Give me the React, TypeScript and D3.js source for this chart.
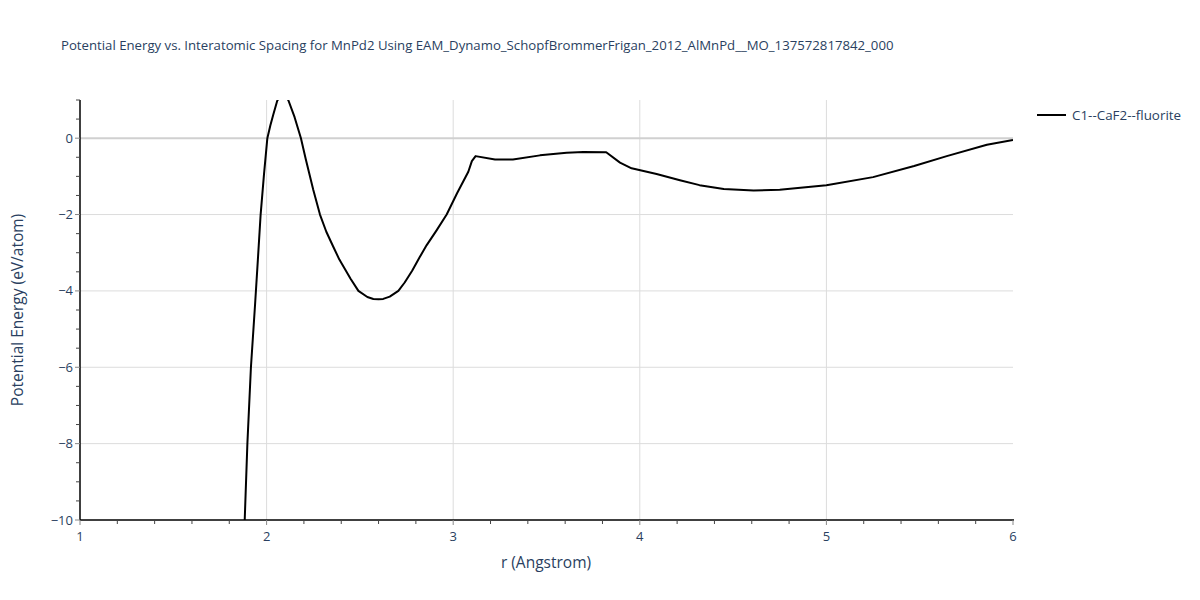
import React from "react";
import * as d3 from "d3";

const rValues = [1.882, 1.897, 1.916, 1.938, 1.953, 1.968, 1.986, 2.004, 2.02, 2.036, 2.057, 2.085, 2.116, 2.15, 2.184, 2.21, 2.25, 2.286, 2.32, 2.358, 2.39, 2.45, 2.492, 2.54, 2.572, 2.6, 2.625, 2.66, 2.706, 2.74, 2.78, 2.82, 2.858, 2.91, 2.965, 3.02, 3.081, 3.1, 3.12, 3.224, 3.32, 3.465, 3.608, 3.697, 3.82, 3.894, 3.956, 4.09, 4.215, 4.32, 4.45, 4.61, 4.75, 5.0, 5.25, 5.47, 5.645, 5.86, 6.0];
const energyValues = [-10.1, -8.0, -6.0, -4.37, -3.2, -2.0, -0.95, 0, 0.33, 0.62, 0.98, 1.18, 1.0, 0.55, 0, -0.55, -1.35, -2.0, -2.45, -2.85, -3.18, -3.68, -4.0, -4.16, -4.21, -4.22, -4.21, -4.15, -4.0, -3.78, -3.47, -3.12, -2.8, -2.42, -2.0, -1.45, -0.88, -0.6, -0.47, -0.56, -0.56, -0.45, -0.38, -0.36, -0.37, -0.64, -0.79, -0.94, -1.1, -1.23, -1.33, -1.37, -1.35, -1.23, -1.02, -0.73, -0.47, -0.17, -0.05];
const xTicks = [1, 2, 3, 4, 5, 6];
const yTicks = [-10, -8, -6, -4, -2, 0];
const seriesName = "C1--CaF2--fluorite";
const title = "Potential Energy vs. Interatomic Spacing for MnPd2 Using EAM_Dynamo_SchopfBrommerFrigan_2012_AlMnPd__MO_137572817842_000";

const W = 1200, H = 600;
const L = 80, R = 1013, T = 100, B = 520;
const font = "'Open Sans', sans-serif";
const txt = "#2a3f5f";

export default function App() {
  const x = d3.scaleLinear().domain([1, 6]).range([L, R]);
  const y = d3.scaleLinear().domain([-10, 1]).range([B, T]);
  const pts = rValues.map((r, i) => [r, energyValues[i]] as [number, number]);
  const line = d3.line<[number, number]>().x(d => x(d[0])).y(d => y(d[1]));
  const xMinor = d3.range(1, 6.001, 0.2).filter(v => Math.abs(v - Math.round(v)) > 1e-6);
  const yMinor = d3.range(-10, 1.001, 0.5).filter(v => Math.abs(v / 2 - Math.round(v / 2)) > 1e-6);
  return (
    <svg width={W} height={H} style={{ position: "absolute", left: 0, top: 0, fontFamily: font }}>
      <rect width={W} height={H} fill="#fff" />
      <defs>
        <clipPath id="plotclip">
          <rect x={L} y={T} width={R - L} height={B - T} />
        </clipPath>
      </defs>
      {xTicks.filter(v => v > 1 && v < 6).map(v => (
        <line key={"gx" + v} x1={x(v)} x2={x(v)} y1={T} y2={B} stroke="#dcdcdc" strokeWidth={1} />
      ))}
      {yTicks.filter(v => v !== 0 && v !== -10).map(v => (
        <line key={"gy" + v} x1={L} x2={R} y1={y(v)} y2={y(v)} stroke="#dcdcdc" strokeWidth={1} />
      ))}
      <line x1={L} x2={R} y1={y(0)} y2={y(0)} stroke="#d0d0d0" strokeWidth={2} />
      <path d={line(pts) || ""} fill="none" stroke="#000" strokeWidth={2} clipPath="url(#plotclip)" strokeLinejoin="round" />
      <line x1={L} x2={R + 1} y1={B} y2={B} stroke="#000" strokeWidth={1.5} />
      <line x1={L} x2={L} y1={T} y2={B} stroke="#000" strokeWidth={1.5} />
      {xTicks.map(v => (
        <g key={"xt" + v}>
          <line x1={x(v)} x2={x(v)} y1={B} y2={B + 5} stroke="#888" strokeWidth={1} />
          <text x={x(v)} y={B + 21} textAnchor="middle" fontSize={13} fill={txt}>{v}</text>
        </g>
      ))}
      {xMinor.map(v => (
        <line key={"xm" + v} x1={x(v)} x2={x(v)} y1={B} y2={B + 4} stroke="#444" strokeWidth={1} />
      ))}
      {yTicks.map(v => (
        <g key={"yt" + v}>
          <line x1={L} x2={L - 5} y1={y(v)} y2={y(v)} stroke="#888" strokeWidth={1} />
          <text x={L - 7} y={y(v) + 4.5} textAnchor="end" fontSize={13} fill={txt}>{v < 0 ? "\u2212" + Math.abs(v) : v}</text>
        </g>
      ))}
      {yMinor.map(v => (
        <line key={"ym" + v} x1={L} x2={L - 4} y1={y(v)} y2={y(v)} stroke="#444" strokeWidth={1} />
      ))}
      <text x={546} y={568} textAnchor="middle" fontSize={15.5} fill={txt}>r (Angstrom)</text>
      <text transform={`translate(23,${(T + B) / 2}) rotate(-90)`} textAnchor="middle" fontSize={15.5} fill={txt}>Potential Energy (eV/atom)</text>
      <text x={61} y={50} fontSize={13.2} fill={txt}>{title}</text>
      <line x1={1037} x2={1066} y1={115} y2={115} stroke="#000" strokeWidth={2} />
      <text x={1072} y={119.5} fontSize={13.4} fill={txt}>{seriesName}</text>
    </svg>
  );
}
